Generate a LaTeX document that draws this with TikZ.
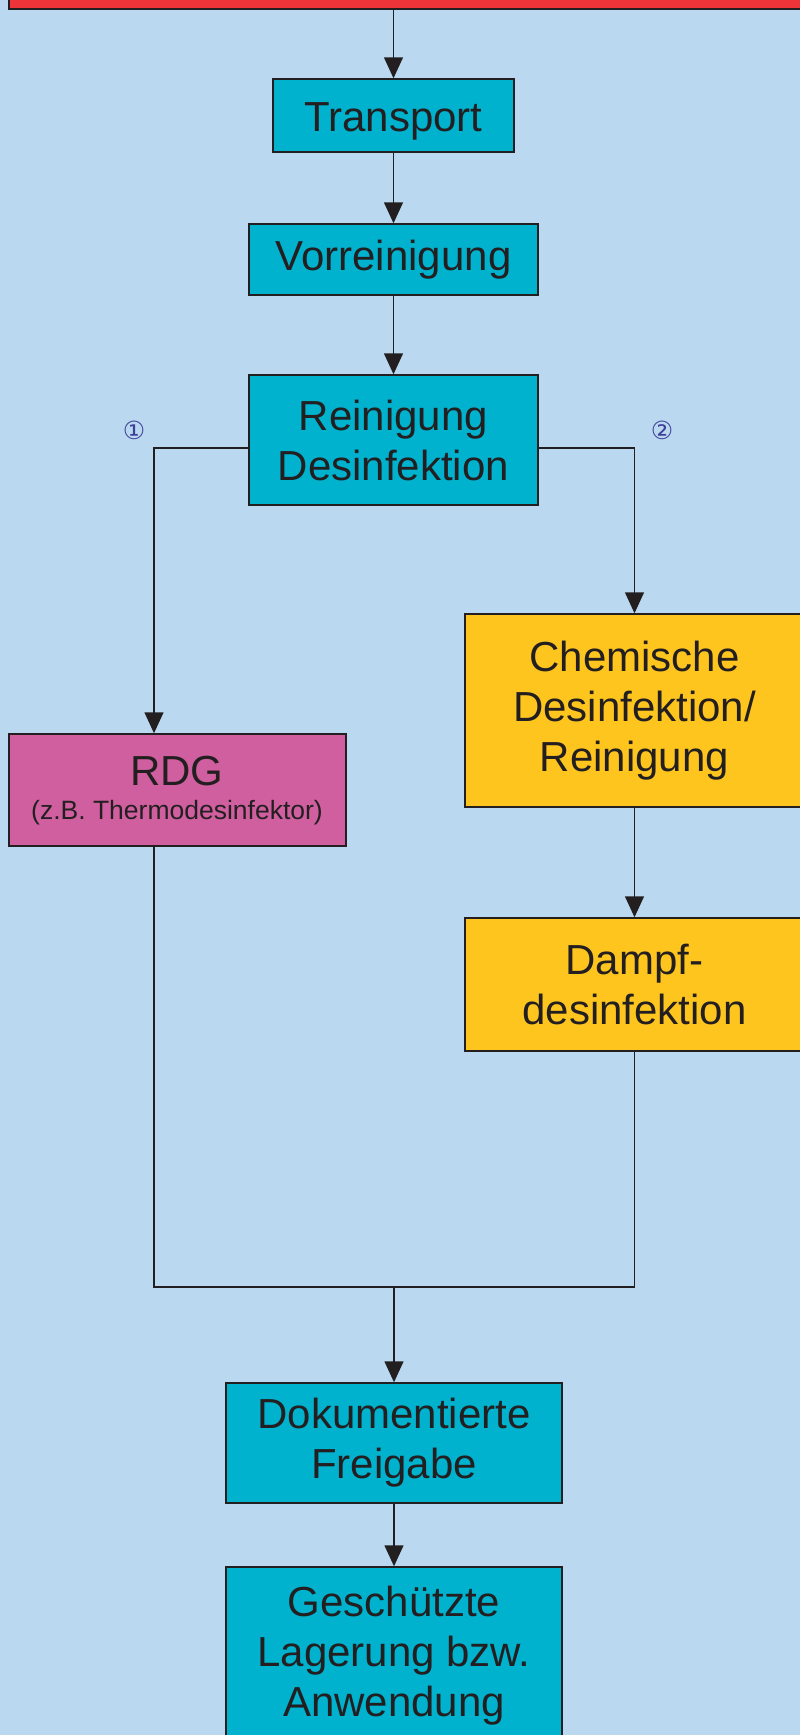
\documentclass[tikz,border=0pt]{standalone}
\usepackage{fontspec}
\setmainfont{Liberation Sans}
\newfontfamily\symfont{DejaVu Sans}
\usetikzlibrary{arrows.meta}
\definecolor{bgblue}{HTML}{BAD9F0}
\definecolor{boxcyan}{HTML}{00B2CE}
\definecolor{boxred}{HTML}{EE3339}
\definecolor{boxmag}{HTML}{D05FA0}
\definecolor{boxyel}{HTML}{FEC51F}
\definecolor{ink}{HTML}{231F20}
\definecolor{numblue}{HTML}{3F3F9A}
\tikzset{
  stepbox/.style={draw=ink, line width=1.5pt, text=ink, inner sep=0pt, align=center,
    font=\fontsize{42}{50}\selectfont},
  boxtext/.style={text=ink, inner sep=0pt, anchor=base},
  conn/.style={draw=ink, line width=1.5pt},
  arr/.style={conn, -{Triangle[length=21pt,width=19pt]}},
  numlabel/.style={text=numblue, font=\symfont\fontsize{25}{30}\selectfont, inner sep=0pt}
}
\begin{document}
\begin{tikzpicture}[x=1pt,y=-1pt]
\useasboundingbox (0,0) rectangle (800,1735);
\clip (0,0) rectangle (800,1735);
\fill[bgblue] (0,0) rectangle (800,1735);

\node[stepbox, fill=boxred, minimum width=801pt, minimum height=40pt] (top) at (409.5,-11) {};
\node[stepbox, fill=boxcyan, minimum width=241pt, minimum height=73pt] (trans) at (393.5,115.5) {};
\node[boxtext, font=\fontsize{42}{50}\selectfont] (transtxt) at (393.5,131) {Transport};
\node[stepbox, fill=boxcyan, minimum width=289pt, minimum height=71pt] (vor) at (393.5,259.5) {Vorreinigung};
\node[stepbox, fill=boxcyan, minimum width=289pt, minimum height=130pt] (rein) at (393.5,440) {Reinigung\\Desinfektion};
\node[stepbox, fill=boxyel, minimum width=339pt, minimum height=193pt] (chem) at (634.5,710.5) {Chemische\\Desinfektion/\\Reinigung};
\node[stepbox, fill=boxmag, minimum width=337pt, minimum height=112pt] (rdg) at (177.5,790) {};
\node[boxtext, font=\fontsize{42}{50}\selectfont] (rdgtxt) at (177,785) {RDG};
\node[boxtext, font=\fontsize{26.5}{32}\selectfont] (rdgsub) at (177,819) {(z.B. Thermodesinfektor)};
\node[stepbox, fill=boxyel, minimum width=339pt, minimum height=133pt] (dampf) at (634.5,984.5) {Dampf-\\desinfektion};
\node[stepbox, fill=boxcyan, minimum width=336pt, minimum height=120pt] (doku) at (394,1443) {Dokumentierte\\Freigabe};
\node[stepbox, fill=boxcyan, minimum width=336pt, minimum height=178pt] (gesch) at (394,1656) {Geschützte\\Lagerung bzw.\\Anwendung};

\node[numlabel] (n1) at (134,430) {①};
\node[numlabel] (n2) at (662,430) {②};

\coordinate (merge) at (394,1287);

\draw[arr] (top.south -| trans.north) -- (trans.north);
\draw[arr] (trans) -- (vor);
\draw[arr] (vor) -- (rein);
\draw[arr] ([yshift=-8pt]rein.west) -| ([xshift=-23.5pt]rdg.north);
\draw[arr] ([yshift=-8pt]rein.east) -| (chem.north);
\draw[arr] (chem) -- (dampf);
\draw[conn] ([xshift=-23.5pt]rdg.south) |- (merge -| dampf.south) -- (dampf.south);
\draw[arr] (merge) -- (doku.north);
\draw[arr] (doku) -- (gesch);
\end{tikzpicture}
\end{document}
